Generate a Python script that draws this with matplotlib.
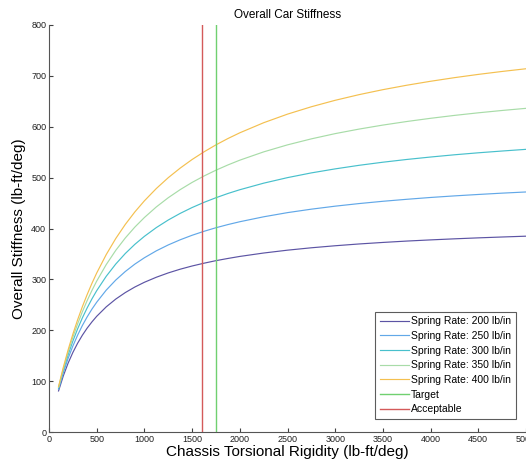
import matplotlib
matplotlib.use("Agg")
import matplotlib.pyplot as plt

plt.rcParams['font.family'] = ['Liberation Sans', 'DejaVu Sans']

rigidity = [100, 150, 200, 250, 300, 350, 400, 450, 500, 600, 700, 800, 900, 1000, 1125, 1250,
            1375, 1500, 1625, 1750, 1875, 2000, 2250, 2500, 2750, 3000, 3250, 3500, 3750, 4000,
            4250, 4500, 4750, 5000]

stiff_200 = [80.7, 110.3, 135.2, 156.3, 174.5, 190.3, 204.2, 216.4, 227.4, 246.0, 261.3, 274.1,
             285.0, 294.3, 304.2, 312.7, 320.0, 326.3, 331.8, 336.8, 341.1, 345.1, 351.8, 357.4,
             362.1, 366.1, 369.6, 372.6, 375.3, 377.6, 379.7, 381.6, 383.3, 384.9]
stiff_250 = [83.9, 116.5, 144.5, 168.9, 190.4, 209.4, 226.3, 241.5, 255.1, 278.9, 298.7, 315.5,
             330.0, 342.5, 356.1, 367.7, 377.8, 386.7, 394.5, 401.5, 407.7, 413.3, 423.0, 431.2,
             438.0, 443.9, 449.0, 453.5, 457.4, 461.0, 464.1, 466.9, 469.5, 471.8]
stiff_300 = [86.2, 121.0, 151.5, 178.6, 202.7, 224.4, 243.9, 261.6, 277.8, 306.1, 330.2, 350.9,
             368.9, 384.6, 401.8, 416.7, 429.7, 441.2, 451.4, 460.5, 468.8, 476.2, 489.1, 500.0,
             509.3, 517.2, 524.2, 530.3, 535.7, 540.5, 544.9, 548.8, 552.3, 555.6]
stiff_350 = [87.9, 124.4, 156.9, 186.2, 212.5, 236.5, 258.3, 278.2, 296.6, 329.1, 357.1, 381.4,
             402.8, 421.6, 442.4, 460.5, 476.4, 490.6, 503.2, 514.6, 524.9, 534.3, 550.6, 564.4,
             576.2, 586.5, 595.4, 603.3, 610.3, 616.6, 622.3, 627.4, 632.0, 636.2]
stiff_400 = [89.3, 127.1, 161.3, 192.3, 220.6, 246.5, 270.2, 292.2, 312.5, 348.8, 380.4, 408.1,
             432.6, 454.4, 478.6, 499.9, 518.7, 535.6, 550.7, 564.4, 576.8, 588.1, 607.9, 624.8,
             639.3, 652.0, 663.1, 672.9, 681.6, 689.4, 696.5, 702.9, 708.7, 714.0]

series_labels = ['Spring Rate: 200 lb/in', 'Spring Rate: 250 lb/in', 'Spring Rate: 300 lb/in',
                 'Spring Rate: 350 lb/in', 'Spring Rate: 400 lb/in']
series_values = [stiff_200, stiff_250, stiff_300, stiff_350, stiff_400]
series_colors = ['#5c54a4', '#62a8e8', '#48c0cc', '#a8dca8', '#f4c050']

target_x = 1750
acceptable_x = 1600

fig = plt.figure(figsize=(5.26, 4.66), dpi=100)
ax = fig.add_axes([49/526, 34/466, 477/526, 407/466])

for vals, lab, col in zip(series_values, series_labels, series_colors):
    ax.plot(rigidity, vals, color=col, lw=0.85, label=lab)

ax.axvline(target_x, color='#70d070', lw=1.0, label='Target')
ax.axvline(acceptable_x, color='#d45a5a', lw=1.0, label='Acceptable')

ax.set_xlim(0, 5000)
ax.set_ylim(0, 800)
ax.set_xticks(range(0, 5001, 500))
ax.set_yticks(range(0, 801, 100))
ax.tick_params(direction='in', length=3, width=0.8, labelsize=6.5, colors='#404040',
               labelcolor='#202020', pad=2)
for s in ['top', 'right']:
    ax.spines[s].set_visible(False)
for s in ['left', 'bottom']:
    ax.spines[s].set_color('#555555')
    ax.spines[s].set_linewidth(0.8)

ax.set_title('Overall Car Stiffness', fontsize=8.5, pad=5)
ax.set_xlabel('Chassis Torsional Rigidity (lb-ft/deg)', fontsize=11, labelpad=1)
ax.set_ylabel('Overall Stiffness (lb-ft/deg)', fontsize=11, labelpad=4)

leg = ax.legend(loc='lower right', bbox_to_anchor=(516/526, 47/466), bbox_transform=fig.transFigure,
                borderaxespad=0, fontsize=7.5, handlelength=2.8, handletextpad=0.2,
                labelspacing=0.45, borderpad=0.45, frameon=True, fancybox=False)
leg.get_frame().set_edgecolor('#333333')
leg.get_frame().set_linewidth(0.8)

fig.savefig('out.png', dpi=100)
